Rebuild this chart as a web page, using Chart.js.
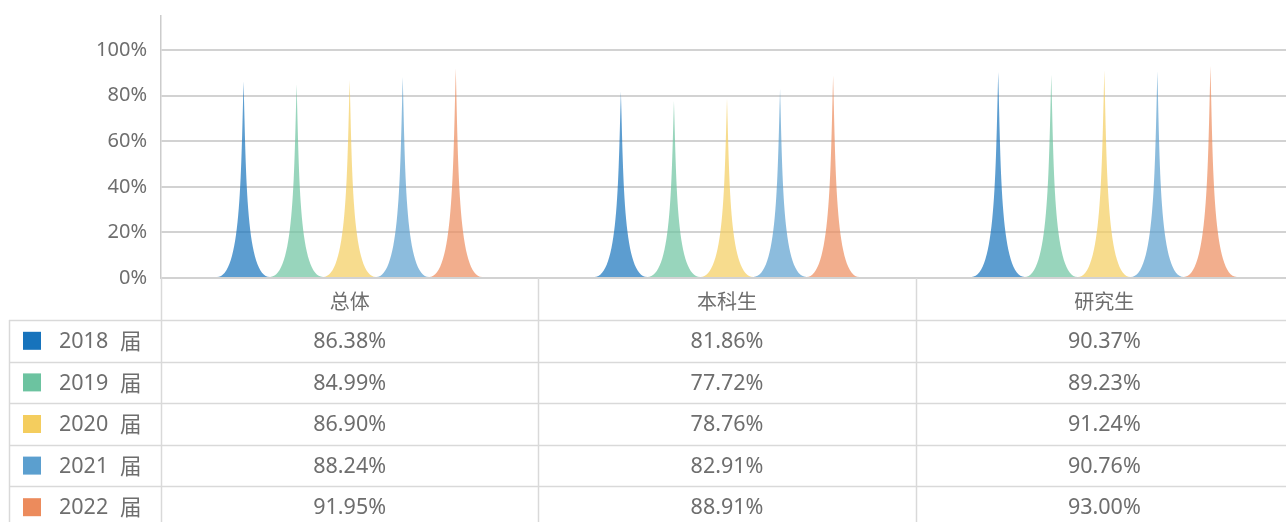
<!DOCTYPE html>
<html>
<head>
<meta charset="utf-8">
<script src="https://cdn.jsdelivr.net/npm/chart.js@4.4.0/dist/chart.umd.min.js"></script>
<style>
  body { margin: 0; background: #fff; overflow: hidden; }
  #wrap { width: 1293px; height: 522px; }
</style>
</head>
<body>
<div id="wrap"><canvas id="rateChart"></canvas></div>
<script>
const categories = ['总体', '本科生', '研究生'];
const years = ['2018', '2019', '2020', '2021', '2022'];
const rate2018 = [86.38, 81.86, 90.37];
const rate2019 = [84.99, 77.72, 89.23];
const rate2020 = [86.90, 78.76, 91.24];
const rate2021 = [88.24, 82.91, 90.76];
const rate2022 = [91.95, 88.91, 93.00];
const yTicks = [0, 20, 40, 60, 80, 100];

const colors = ['#1773bc', '#6cc3a0', '#f4cd5e', '#5b9fcf', '#ec8b5c'];
const font = '"Noto Sans", "Noto Sans CJK SC", sans-serif';
const textColor = '#6e6e6e';
const lineColor = '#d9d9d9';

const seriesList = [rate2018, rate2019, rate2020, rate2021, rate2022];

const hexAlpha = (hex, a) => {
  const n = parseInt(hex.slice(1), 16);
  return `rgba(${n >> 16}, ${(n >> 8) & 255}, ${n & 255}, ${a})`;
};

// draw each bar as a thin concave spike instead of a rectangle
const spikePlugin = {
  id: 'spikes',
  beforeDatasetDraw(chart, args) {
    const ctx = chart.ctx;
    const ds = chart.data.datasets[args.index];
    ctx.save();
    ctx.fillStyle = hexAlpha(ds.backgroundColor, 0.7);
    args.meta.data.forEach(bar => {
      const { x, y, base, width } = bar;
      const h = base - y;
      const w = width;
      ctx.beginPath();
      ctx.moveTo(x - w / 2, base);
      ctx.lineTo(x + w / 2, base);
      ctx.bezierCurveTo(x + 0.05 * w, base, x + 0.05 * w, base - h / 2, x, y);
      ctx.bezierCurveTo(x - 0.05 * w, y + h / 2, x - 0.05 * w, base, x - w / 2, base);
      ctx.closePath();
      ctx.fill();
    });
    ctx.restore();
    return false;
  }
};

// data table under the x axis, lined up with the category scale
const tablePlugin = {
  id: 'dataTable',
  afterDraw(chart) {
    const ctx = chart.ctx;
    const area = chart.chartArea;
    const xs = chart.scales.x;
    const headerH = 42;
    const rowH = 41.6;
    const top = area.bottom + headerH;
    const left = 9;
    const right = chart.width;
    const bottom = chart.height;
    const step = (area.right - area.left) / categories.length;

    ctx.save();
    ctx.strokeStyle = lineColor;
    ctx.lineWidth = 1.5;

    // vertical lines
    ctx.beginPath();
    for (let i = 0; i <= categories.length; i++) {
      const lx = Math.round(area.left + i * step) + 0.5;
      ctx.moveTo(lx, area.bottom);
      ctx.lineTo(lx, bottom);
    }
    ctx.moveTo(left + 0.5, top);
    ctx.lineTo(left + 0.5, bottom);
    ctx.stroke();

    // horizontal lines
    ctx.beginPath();
    for (let r = 0; r <= years.length; r++) {
      const ly = Math.round(top + r * rowH) + 0.5;
      ctx.moveTo(left, ly);
      ctx.lineTo(right, ly);
    }
    ctx.stroke();

    ctx.font = '21.5px ' + font;
    ctx.fillStyle = textColor;
    ctx.textBaseline = 'middle';
    years.forEach((yr, r) => {
      const cy = top + r * rowH + rowH / 2;
      ctx.fillStyle = colors[r];
      ctx.fillRect(23, cy - 9, 18, 18);
      ctx.fillStyle = textColor;
      ctx.textAlign = 'left';
      ctx.fillText(yr, 59, cy + 1);
      ctx.fillText('届', 120, cy + 2);
      ctx.textAlign = 'center';
      seriesList[r].forEach((v, c) => {
        ctx.fillText(v.toFixed(2) + '%', xs.getPixelForValue(c), cy + 1);
      });
    });
    ctx.restore();
  }
};

new Chart(document.getElementById('rateChart'), {
  type: 'bar',
  data: {
    labels: categories,
    datasets: years.map((yr, i) => ({
      label: yr + ' 届',
      data: seriesList[i],
      backgroundColor: colors[i],
      barPercentage: 1,
      categoryPercentage: 0.703
    }))
  },
  options: {
    responsive: true,
    maintainAspectRatio: false,
    animation: false,
    layout: { padding: { top: 16, right: 0, bottom: 0, left: 0 } },
    plugins: { legend: { display: false }, tooltip: { enabled: false } },
    scales: {
      x: {
        grid: { display: false },
        border: { display: false },
        ticks: { color: textColor, font: { size: 20, family: font }, padding: 5 },
        afterFit: (scale) => { scale.height = 244; }
      },
      y: {
        min: 0,
        max: 115,
        afterBuildTicks: (scale) => { scale.ticks = yTicks.map(v => ({ value: v })); },
        ticks: {
          color: textColor,
          font: { size: 20, family: font },
          padding: 14,
          callback: (v) => v + '%'
        },
        grid: { color: '#d2d2d2', lineWidth: 2, drawTicks: false },
        border: { display: true, color: '#cccccc', width: 1.5 },
        afterFit: (scale) => {
          scale.width = 161;
          scale.paddingTop = 0;
          scale.paddingBottom = 0;
        }
      }
    }
  },
  plugins: [spikePlugin, tablePlugin]
});
</script>
</body>
</html>
